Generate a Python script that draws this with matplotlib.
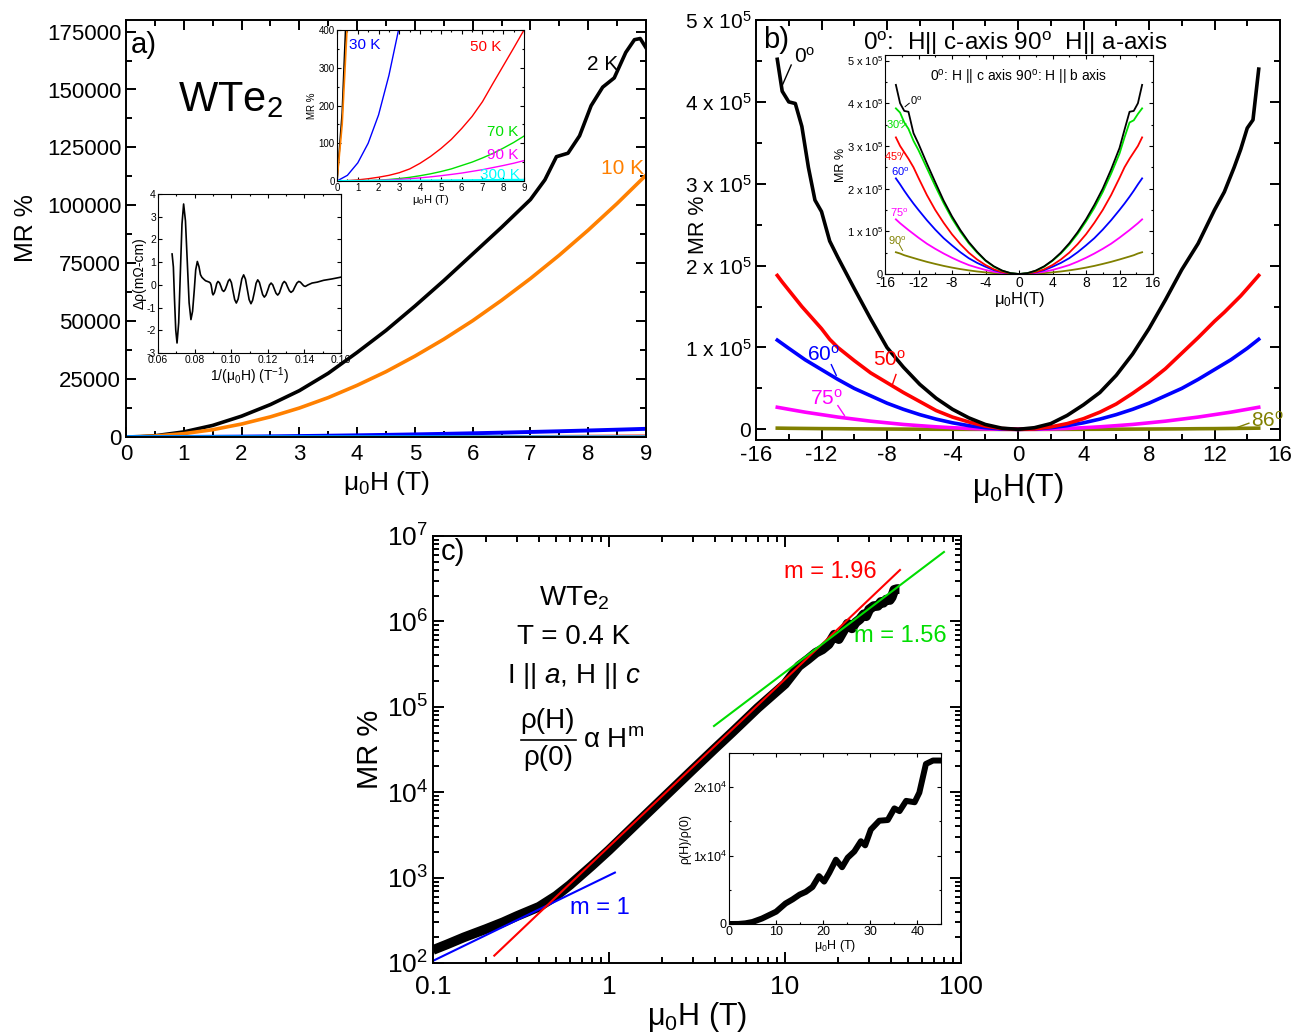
import math
import matplotlib
matplotlib.use('Agg')
import matplotlib.pyplot as plt
from matplotlib.ticker import MultipleLocator, FixedLocator, LogLocator, NullFormatter, FuncFormatter
from matplotlib.lines import Line2D

plt.rcParams['font.family'] = ['Liberation Sans', 'DejaVu Sans']
plt.rcParams['mathtext.fontset'] = 'custom'
plt.rcParams['mathtext.rm'] = 'Liberation Sans'
plt.rcParams['mathtext.it'] = 'Liberation Sans:italic'
plt.rcParams['mathtext.bf'] = 'Liberation Sans:bold'
plt.rcParams['axes.unicode_minus'] = False

# ---------------- Panel a data ----------------
H2K = [0, 0.25, 0.5, 1, 1.5, 2, 2.5, 3, 3.5, 4, 4.5, 5, 5.5, 6, 6.5, 7, 7.25, 7.45, 7.65, 7.85,
       8.05, 8.25, 8.45, 8.65, 8.8, 8.9, 9.0]
MR2K = [0, 180, 520, 2200, 5000, 9000, 14000, 20000, 27500, 36500, 46000, 56500, 67500, 79000,
        90500, 102500, 111000, 121000, 122500, 130000, 143000, 151000, 155000, 166000, 171500,
        172000, 168000]
H10K = [0, 0.25, 0.5, 1, 1.5, 2, 2.5, 3, 3.5, 4, 4.5, 5, 5.5, 6, 6.5, 7, 7.5, 8, 8.5, 9]
MR10K = [0, 150, 420, 1450, 3150, 5600, 8700, 12500, 17000, 22300, 28200, 34900, 42200, 50200,
         59000, 68400, 78500, 89300, 100800, 113000]
Hhi = [0, 0.5, 1, 1.5, 2, 2.5, 3, 3.5, 4, 4.5, 5, 5.5, 6, 6.5, 7, 7.5, 8, 8.5, 9]
MR30K = [0, 15, 48, 100, 175, 280, 410, 560, 730, 920, 1130, 1360, 1610, 1880, 2170, 2480, 2810,
         3160, 3530]
MR50K = [0, 1, 3, 6, 10, 15, 22, 32, 47, 65, 86, 110, 139, 171, 210, 258, 305, 352, 400]
MR70K = [0, 0.1, 0.4, 1, 2.2, 4, 6.5, 9.7, 14, 19, 25, 32, 41, 50, 61, 73, 87, 102, 119]
MR90K = [0, 0.07, 0.35, 0.9, 1.7, 2.8, 4.3, 6.1, 8.3, 11, 14, 17.4, 21, 25.5, 30, 35.5, 41, 47, 54]
MR300K = [0, 0, 0.1, 0.2, 0.3, 0.5, 0.6, 0.8, 1.0, 1.2, 1.4, 1.6, 1.8, 2.0, 2.2, 2.4, 2.6, 2.8, 3.0]

inv_H = [0.0677, 0.0684, 0.0690, 0.0697, 0.0704, 0.0713, 0.0722, 0.0731, 0.0740, 0.0750, 0.0760,
         0.0770, 0.0780, 0.0789, 0.0798, 0.0806, 0.0815, 0.0824, 0.0832, 0.0840, 0.0850, 0.0860,
         0.0870, 0.0880, 0.0886, 0.0890, 0.0894, 0.0897, 0.0901, 0.0908, 0.0915, 0.0921, 0.0928,
         0.0936, 0.0944, 0.0951, 0.0959, 0.0967, 0.0976, 0.0984, 0.0992, 0.1001, 0.1010, 0.1019,
         0.1028, 0.1038, 0.1048, 0.1058, 0.1068, 0.1078, 0.1088, 0.1098, 0.1108, 0.1117, 0.1127,
         0.1136, 0.1145, 0.1154, 0.1163, 0.1172, 0.1181, 0.1190, 0.1200, 0.1209, 0.1218, 0.1227,
         0.1236, 0.1245, 0.1254, 0.1263, 0.1272, 0.1281, 0.1290, 0.1299, 0.1308, 0.1318, 0.1327,
         0.1338, 0.1348, 0.1359, 0.1369, 0.1378, 0.1387, 0.1396, 0.1405, 0.1420, 0.1442, 0.1470,
         0.1505, 0.1550, 0.1600]
d_rho = [1.36, 0.79, -0.60, -1.99, -2.56, -1.67, 0.50, 2.67, 3.56, 2.82, 1.02, -0.79, -1.53, -1.16,
         -0.25, 0.66, 1.03, 0.80, 0.45, 0.33, 0.25, 0.18, 0.15, 0.12, 0.08, 0.00, -0.18, -0.36,
         -0.44, -0.35, -0.15, 0.06, 0.15, 0.09, -0.07, -0.23, -0.29, -0.21, -0.02, 0.17, 0.25, 0.10,
         -0.28, -0.65, -0.80, -0.62, -0.18, 0.26, 0.44, 0.25, -0.20, -0.65, -0.83, -0.68, -0.31,
         0.07, 0.22, 0.11, -0.16, -0.43, -0.54, -0.45, -0.23, -0.01, 0.08, 0.00, -0.19, -0.37,
         -0.45, -0.36, -0.15, 0.06, 0.15, 0.08, -0.09, -0.26, -0.33, -0.26, -0.09, 0.08, 0.15,
         0.12, 0.04, -0.04, -0.07, 0.00, 0.08, 0.12, 0.20, 0.26, 0.34]

# ---------------- Panel b data (MR in units of 1e5 %) ----------------
Hb = [-14.7, -14.4, -14.0, -13.6, -13.2, -12.8, -12.4, -12.0, -11.5, -11, -10, -9, -8, -7, -6, -5,
      -4, -3, -2, -1, 0, 1, 2, 3, 4, 5, 6, 7, 8, 9, 10, 11, 12, 12.6, 13.2, 13.6, 14.0, 14.35, 14.7]
MRb_0 = [4.52, 4.13, 4.00, 3.98, 3.70, 3.20, 2.80, 2.66, 2.30, 2.10, 1.72, 1.35, 1.00, 0.76, 0.55,
         0.38, 0.245, 0.14, 0.06, 0.015, 0, 0.02, 0.07, 0.17, 0.30, 0.45, 0.66, 0.92, 1.23, 1.58,
         1.95, 2.27, 2.68, 2.90, 3.20, 3.42, 3.68, 3.78, 4.40]
MRb_50 = [1.88, 1.80, 1.70, 1.60, 1.50, 1.41, 1.32, 1.23, 1.10, 1.00, 0.84, 0.69, 0.57, 0.45, 0.34,
          0.23, 0.15, 0.09, 0.04, 0.01, 0, 0.005, 0.03, 0.07, 0.13, 0.21, 0.31, 0.44, 0.58, 0.74,
          0.93, 1.12, 1.32, 1.43, 1.55, 1.63, 1.72, 1.80, 1.88]
Hb2 = [-14.7, -14, -13, -12, -11, -10, -9, -8, -7, -6, -5, -4, -3, -2, -1, 0, 1, 2, 3, 4, 5, 6, 7,
       8, 9, 10, 11, 12, 13, 14, 14.7]
MRb_60 = [1.09, 0.99, 0.85, 0.73, 0.61, 0.50, 0.41, 0.32, 0.245, 0.18, 0.125, 0.08, 0.045, 0.02,
          0.005, 0, 0.005, 0.02, 0.045, 0.08, 0.125, 0.18, 0.245, 0.32, 0.41, 0.50, 0.61, 0.73,
          0.85, 0.99, 1.10]
MRb_75 = [0.27, 0.245, 0.21, 0.18, 0.15, 0.125, 0.10, 0.08, 0.06, 0.045, 0.031, 0.02, 0.011, 0.005,
          0.001, 0, 0.001, 0.005, 0.011, 0.02, 0.031, 0.045, 0.06, 0.08, 0.10, 0.125, 0.15, 0.18,
          0.21, 0.245, 0.27]
MRb_86 = [0.015, 0.013, 0.011, 0.009, 0.008, 0.006, 0.005, 0.004, 0.003, 0.002, 0.0015, 0.001,
          0.0005, 0.0002, 0, 0, 0, 0.0002, 0.0005, 0.001, 0.0015, 0.002, 0.003, 0.004, 0.005,
          0.006, 0.008, 0.009, 0.011, 0.013, 0.015]

Hbi = [-14.7, -14.2, -13.7, -13.2, -12.6, -12, -11, -10, -9, -8, -7, -6, -5, -4, -3, -2, -1, 0,
       1, 2, 3, 4, 5, 6, 7, 8, 9, 10, 11, 12, 12.6, 13.2, 13.7, 14.2, 14.7]
MRi_0 = [4.43, 4.0, 3.82, 3.80, 3.30, 3.05, 2.59, 2.15, 1.72, 1.35, 1.03, 0.75, 0.52, 0.32, 0.18,
         0.08, 0.02, 0, 0.02, 0.08, 0.18, 0.32, 0.5, 0.72, 0.98, 1.28, 1.62, 2.0, 2.45, 2.95, 3.38,
         3.80, 3.82, 4.0, 4.43]
MRi_30 = [3.88, 3.78, 3.55, 3.40, 3.12, 2.90, 2.48, 2.06, 1.66, 1.30, 0.99, 0.72, 0.50, 0.31, 0.17,
          0.075, 0.02, 0, 0.02, 0.075, 0.17, 0.31, 0.48, 0.69, 0.94, 1.23, 1.55, 1.92, 2.35, 2.82,
          3.20, 3.55, 3.60, 3.75, 3.88]
MRi_45 = [3.20, 3.00, 2.85, 2.70, 2.50, 2.25, 1.85, 1.50, 1.20, 0.93, 0.70, 0.50, 0.34, 0.21, 0.11,
          0.045, 0.01, 0, 0.01, 0.045, 0.11, 0.21, 0.34, 0.50, 0.70, 0.93, 1.20, 1.50, 1.85, 2.25,
          2.50, 2.70, 2.85, 3.00, 3.20]
MRi_60 = [2.24, 2.10, 1.95, 1.81, 1.65, 1.50, 1.26, 1.04, 0.84, 0.67, 0.51, 0.37, 0.26, 0.17, 0.09,
          0.04, 0.01, 0, 0.01, 0.04, 0.09, 0.17, 0.26, 0.37, 0.51, 0.67, 0.84, 1.04, 1.26, 1.50,
          1.65, 1.81, 1.95, 2.10, 2.24]
MRi_75 = [1.28, 1.19, 1.11, 1.03, 0.94, 0.85, 0.71, 0.59, 0.48, 0.38, 0.29, 0.21, 0.15, 0.095,
          0.053, 0.024, 0.006, 0, 0.006, 0.024, 0.053, 0.095, 0.15, 0.21, 0.29, 0.38, 0.48, 0.59,
          0.71, 0.85, 0.94, 1.03, 1.11, 1.19, 1.28]
MRi_90 = [0.51, 0.48, 0.44, 0.41, 0.375, 0.34, 0.285, 0.236, 0.19, 0.15, 0.115, 0.085, 0.059, 0.038,
          0.021, 0.009, 0.002, 0, 0.002, 0.009, 0.021, 0.038, 0.059, 0.085, 0.115, 0.15, 0.19,
          0.236, 0.285, 0.34, 0.375, 0.41, 0.44, 0.48, 0.51]

# ---------------- Panel c data ----------------
Hc = [0.1, 0.12, 0.15, 0.2, 0.25, 0.3, 0.4, 0.5, 0.6, 0.8, 1, 1.5, 2, 3, 4, 5, 7, 10, 12, 13.5, 15,
      16.3, 17.7, 19.1, 20.2, 21.3, 22.7, 24, 25.2, 26.6, 28, 28.9, 30.1, 31.9, 33.7, 35.1, 36.2,
      37.6, 39.4, 40.4, 41.8, 43.3, 44.7]
MRc = [142, 165, 200, 250, 300, 355, 455, 610, 820, 1380, 2100, 4700, 8300, 18500, 32500, 50000,
       97000, 185000, 300000, 360000, 430000, 470000, 540000, 700000, 620000, 750000, 940000,
       830000, 970000, 1060000, 1210000, 1150000, 1380000, 1510000, 1520000, 1690000, 1650000,
       1800000, 1780000, 1920000, 2340000, 2390000, 2390000]
fitH_m1 = [0.1, 1.08]
fitMR_m1 = [106, 1145]
fitH_m196 = [0.223, 45]
fitMR_m196 = [122, 4.0e6]
fitH_m156 = [3.95, 80]
fitMR_m156 = [5.96e4, 6.5e6]

Hci = [0, 2, 3.5, 5, 7, 10, 12, 13.5, 15, 16.3, 17.7, 19.1, 20.2, 21.3, 22.7, 24, 25.2, 26.6, 28,
       28.9, 30.1, 31.9, 33.7, 35.1, 36.2, 37.6, 39.4, 40.4, 41.8, 43.3, 44.7]
Rci = [0, 10, 100, 300, 800, 1800, 3000, 3600, 4300, 4700, 5400, 7000, 6200, 7500, 9400, 8300, 9700,
       10600, 12100, 11500, 13800, 15100, 15200, 16900, 16500, 18000, 17800, 19200, 23400, 23900,
       23900]

W, Hh = 1306, 1036


def rect(x0, y0, x1, y1):
    return [x0 / W, 1 - y1 / Hh, (x1 - x0) / W, (y1 - y0) / Hh]


def P(x, y):
    return x / W, 1 - y / Hh


def style(ax, fs, maj=7, mino=4, w=1.4):
    ax.tick_params(which='both', direction='in', top=True, right=True, labelsize=fs, width=w)
    ax.tick_params(which='major', length=maj)
    ax.tick_params(which='minor', length=mino)
    for s in ax.spines.values():
        s.set_linewidth(w)


DEG = r'$^{\mathrm{o}}$'

fig = plt.figure(figsize=(13.06, 10.36), dpi=100)

# ================= Panel a =================
axA = fig.add_axes(rect(126, 20, 646, 437))
axA.plot(H2K, MR2K, color='black', lw=2.6)
axA.plot(H10K, MR10K, color='#FF8000', lw=2.6)
axA.plot(Hhi, MR50K, color='red', lw=2.2)
axA.plot(Hhi, MR70K, color='#00E000', lw=2.2)
axA.plot(Hhi, MR90K, color='magenta', lw=2.2)
axA.plot(Hhi, MR30K, color='blue', lw=2.8)
axA.plot(Hhi, MR300K, color='cyan', lw=2.2)
axA.set_xlim(0, 9)
axA.set_ylim(0, 180000)
axA.xaxis.set_major_locator(MultipleLocator(1))
axA.xaxis.set_minor_locator(MultipleLocator(0.5))
axA.yaxis.set_major_locator(FixedLocator(list(range(0, 175001, 25000))))
axA.yaxis.set_minor_locator(MultipleLocator(12500))
axA.yaxis.set_major_formatter(FuncFormatter(lambda v, p: f"{int(v)}"))
style(axA, 16)
axA.tick_params(axis='x', pad=5)
axA.set_xlabel('μ$_0$H (T)', fontsize=19, labelpad=3)
axA.set_ylabel('MR %', fontsize=18, labelpad=6)
fig.text(*P(131, 45), 'a)', fontsize=21, va='center', ha='left')
fig.text(*P(178, 100), r'WTe$_2$', fontsize=30, va='center', ha='left')
fig.text(*P(587, 65), '2 K', fontsize=15, va='center', ha='left')
fig.text(*P(601, 168), '10 K', fontsize=15, va='center', ha='left', color='#FF8000')

# inset top
axAi = fig.add_axes(rect(337, 30, 524, 181))
axAi.plot(H2K, MR2K, color='black', lw=1.2)
axAi.plot(H10K, MR10K, color='#FF8000', lw=1.2)
axAi.plot(Hhi, MR30K, color='blue', lw=1.0)
axAi.plot(Hhi, MR50K, color='red', lw=1.0)
axAi.plot(Hhi, MR70K, color='#00E000', lw=1.0)
axAi.plot(Hhi, MR90K, color='magenta', lw=1.0)
axAi.plot(Hhi, MR300K, color='cyan', lw=1.6)
axAi.set_xlim(0, 9)
axAi.set_ylim(0, 400)
axAi.xaxis.set_major_locator(MultipleLocator(1))
axAi.xaxis.set_minor_locator(MultipleLocator(0.5))
axAi.yaxis.set_major_locator(MultipleLocator(100))
axAi.yaxis.set_minor_locator(MultipleLocator(50))
style(axAi, 7, maj=3, mino=1.5, w=0.8)
axAi.tick_params(axis='both', pad=1.5)
axAi.set_xlabel('μ$_0$H (T)', fontsize=8, labelpad=0)
axAi.set_ylabel('MR %', fontsize=7, labelpad=1)
axAi.text(0.6, 360, '30 K', color='blue', fontsize=11, va='center')
axAi.text(6.4, 355, '50 K', color='red', fontsize=11, va='center')
axAi.text(7.2, 130, '70 K', color='#00E000', fontsize=11, va='center')
axAi.text(7.2, 68, '90 K', color='magenta', fontsize=11, va='center')
axAi.text(6.9, 16, '300 K', color='cyan', fontsize=11, va='center')

# inset left (oscillations)
axAo = fig.add_axes(rect(158, 194, 341, 353))
axAo.plot(inv_H, d_rho, color='black', lw=1.2)
axAo.set_xlim(0.06, 0.16)
axAo.set_ylim(-3, 4)
axAo.xaxis.set_major_locator(MultipleLocator(0.02))
axAo.xaxis.set_minor_locator(MultipleLocator(0.01))
axAo.yaxis.set_major_locator(MultipleLocator(1))
axAo.xaxis.set_major_formatter(FuncFormatter(lambda v, p: f"{v:.2f}"))
style(axAo, 7.5, maj=3, mino=1.5, w=0.8)
axAo.tick_params(axis='both', pad=1.5)
axAo.set_xlabel('1/(μ$_0$H) (T$^{-1}$)', fontsize=10, labelpad=0)
axAo.set_ylabel('Δρ(mΩ-cm)', fontsize=10, labelpad=0)

# ================= Panel b =================
axB = fig.add_axes(rect(756, 20, 1280, 440))
axB.plot(Hb2, [v * 1e5 for v in MRb_86], color='#808000', lw=2.6)
axB.plot(Hb2, [v * 1e5 for v in MRb_75], color='magenta', lw=2.6)
axB.plot(Hb2, [v * 1e5 for v in MRb_60], color='blue', lw=2.6)
axB.plot(Hb, [v * 1e5 for v in MRb_50], color='red', lw=2.6)
axB.plot(Hb, [v * 1e5 for v in MRb_0], color='black', lw=2.6)
axB.set_xlim(-16, 16)
axB.set_ylim(-13000, 500000)
axB.xaxis.set_major_locator(MultipleLocator(4))
axB.xaxis.set_minor_locator(MultipleLocator(2))
axB.yaxis.set_major_locator(FixedLocator([0, 1e5, 2e5, 3e5, 4e5, 5e5]))
axB.yaxis.set_minor_locator(MultipleLocator(0.5e5))
axB.yaxis.set_major_formatter(FuncFormatter(
    lambda v, p: '0' if abs(v) < 1 else r'%d x 10$^5$' % round(v / 1e5)))
style(axB, 16)
axB.tick_params(axis='y', labelsize=15)
axB.set_xlabel('μ$_0$H(T)', fontsize=22, labelpad=4)
axB.set_ylabel('MR %', fontsize=15.5)
axB.yaxis.set_label_coords(-0.09, 0.512)
fig.text(*P(763, 40), 'b)', fontsize=21, va='center', ha='left')
fig.text(*P(1015, 43), '0' + DEG + ':  H|| c-axis 90' + DEG + '  H|| a-axis',
         fontsize=17.5, va='center', ha='center')
# curve labels
axB.text(-13.7, 4.55e5, '0' + DEG, fontsize=15, va='center', ha='left')
axB.plot([-14.4, -13.85], [4.2e5, 4.45e5], color='black', lw=1)
axB.text(-11.9, 0.91e5, '60' + DEG, fontsize=15, va='center', ha='center', color='blue')
axB.plot([-11.4, -11.1], [0.79e5, 0.66e5], color='blue', lw=1)
axB.text(-7.85, 0.85e5, '50' + DEG, fontsize=15, va='center', ha='center', color='red')
axB.plot([-7.45, -7.7], [0.67e5, 0.53e5], color='red', lw=1)
axB.text(-11.7, 0.38e5, '75' + DEG, fontsize=15, va='center', ha='center', color='magenta')
axB.plot([-11.0, -10.6], [0.29e5, 0.17e5], color='magenta', lw=1)
axB.text(14.2, 0.11e5, '86' + DEG, fontsize=15, va='center', ha='left', color='#808000')
axB.plot([13.2, 14.1], [0.01e5, 0.075e5], color='#808000', lw=1)

# inset b
axBi = fig.add_axes(rect(885, 55, 1153, 274))
axBi.plot(Hbi, [v * 1e5 for v in MRi_90], color='#808000', lw=1.3)
axBi.plot(Hbi, [v * 1e5 for v in MRi_75], color='magenta', lw=1.3)
axBi.plot(Hbi, [v * 1e5 for v in MRi_60], color='blue', lw=1.3)
axBi.plot(Hbi, [v * 1e5 for v in MRi_45], color='red', lw=1.3)
axBi.plot(Hbi, [v * 1e5 for v in MRi_30], color='#00E000', lw=1.3)
axBi.plot(Hbi, [v * 1e5 for v in MRi_0], color='black', lw=1.3)
axBi.set_xlim(-16, 16)
axBi.set_ylim(0, 5.13e5)
axBi.xaxis.set_major_locator(MultipleLocator(4))
axBi.xaxis.set_minor_locator(MultipleLocator(2))
axBi.yaxis.set_major_locator(FixedLocator([0, 1e5, 2e5, 3e5, 4e5, 5e5]))
axBi.yaxis.set_minor_locator(MultipleLocator(0.5e5))
axBi.yaxis.set_major_formatter(FuncFormatter(
    lambda v, p: '0' if abs(v) < 1 else r'%d x 10$^5$' % round(v / 1e5)))
style(axBi, 10, maj=3, mino=1.5, w=0.8)
axBi.tick_params(axis='y', labelsize=8, pad=1.5)
axBi.tick_params(axis='x', pad=1.5)
axBi.set_xlabel('μ$_0$H(T)', fontsize=12, labelpad=0)
axBi.set_ylabel('MR %', fontsize=9, labelpad=0)
axBi.text(0, 4.6e5, '0' + DEG + ': H || c axis 90' + DEG + ': H || b axis', fontsize=10,
          ha='center', va='center')
axBi.text(-13.0, 4.05e5, '0' + DEG, fontsize=8, va='center', ha='left')
axBi.plot([-13.6, -13.1], [3.92e5, 4.0e5], color='black', lw=0.7)
axBi.text(-14.8, 3.5e5, '30' + DEG, fontsize=8, va='center', ha='center', color='#00E000')
axBi.plot([-14.0, -13.5], [3.43e5, 3.52e5], color='#00E000', lw=0.7)
axBi.text(-15.0, 2.75e5, '45' + DEG, fontsize=8, va='center', ha='center', color='red')
axBi.plot([-14.2, -13.8], [2.68e5, 2.85e5], color='red', lw=0.7)
axBi.text(-14.2, 2.4e5, '60' + DEG, fontsize=8, va='center', ha='center', color='blue')
axBi.text(-14.3, 1.43e5, '75' + DEG, fontsize=8, va='center', ha='center', color='magenta')
axBi.text(-14.5, 0.77e5, '90' + DEG, fontsize=8, va='center', ha='center', color='#808000')
axBi.plot([-14.3, -13.9], [0.69e5, 0.55e5], color='#808000', lw=0.7)

# ================= Panel c =================
axC = fig.add_axes(rect(433, 536, 961, 963))
axC.plot(Hc, MRc, color='black', lw=7, solid_capstyle='butt')
axC.plot(fitH_m1, fitMR_m1, color='blue', lw=1.5)
axC.plot(fitH_m196, fitMR_m196, color='red', lw=1.5)
axC.plot(fitH_m156, fitMR_m156, color='#00DD00', lw=1.5, clip_on=False)
axC.set_xscale('log')
axC.set_yscale('log')
axC.set_xlim(0.1, 100)
axC.set_ylim(1e2, 1e7)
axC.xaxis.set_major_locator(LogLocator(base=10, numticks=10))
axC.xaxis.set_minor_locator(LogLocator(base=10, subs=range(2, 10), numticks=10))
axC.xaxis.set_minor_formatter(NullFormatter())
axC.xaxis.set_major_formatter(FuncFormatter(
    lambda v, p: {0.1: '0.1', 1: '1', 10: '10', 100: '100'}.get(round(v, 3), '')))
axC.yaxis.set_major_locator(LogLocator(base=10, numticks=10))
axC.yaxis.set_minor_locator(LogLocator(base=10, subs=range(2, 10), numticks=10))
axC.yaxis.set_minor_formatter(NullFormatter())
axC.yaxis.set_major_formatter(FuncFormatter(lambda v, p: r'10$^{%d}$' % round(math.log10(v))))
style(axC, 19, maj=8, mino=4)
axC.tick_params(axis='x', pad=9)
axC.set_xlabel('μ$_0$H (T)', fontsize=22, labelpad=0)
axC.set_ylabel('MR %', fontsize=21)
axC.yaxis.set_label_coords(-0.092, 0.5)
fig.text(*P(441, 552), 'c)', fontsize=21, va='center', ha='left')
fig.text(*P(574, 598), r'WTe$_2$', fontsize=20, va='center', ha='center')
fig.text(*P(574, 637), 'T = 0.4 K', fontsize=20, va='center', ha='center')
fig.text(*P(574, 676), r'I || $a$, H || $c$', fontsize=20, va='center', ha='center')
fig.text(*P(548, 721), 'ρ(H)', fontsize=20, va='center', ha='center')
fig.add_artist(Line2D([521 / W, 576 / W], [1 - 740 / Hh, 1 - 740 / Hh], color='black', lw=1.2))
fig.text(*P(548, 758), 'ρ(0)', fontsize=20, va='center', ha='center')
fig.text(*P(583, 740), 'α H$^{\\mathrm{m}}$', fontsize=20, va='center', ha='left')
fig.text(*P(830, 572), 'm = 1.96', fontsize=17, va='center', ha='center', color='red')
fig.text(*P(900, 636), 'm = 1.56', fontsize=17, va='center', ha='center', color='#00DD00')
fig.text(*P(600, 908), 'm = 1', fontsize=17, va='center', ha='center', color='blue')

# inset c
axCi = fig.add_axes(rect(729, 753, 941, 924))
axCi.plot(Hci, Rci, color='black', lw=4.3)
axCi.set_xlim(0, 45)
axCi.set_ylim(0, 25000)
axCi.xaxis.set_major_locator(MultipleLocator(10))
axCi.xaxis.set_minor_locator(MultipleLocator(5))
axCi.yaxis.set_major_locator(FixedLocator([0, 10000, 20000]))
axCi.yaxis.set_minor_locator(MultipleLocator(5000))
axCi.yaxis.set_major_formatter(FuncFormatter(
    lambda v, p: '0' if abs(v) < 1 else r'%dx10$^4$' % round(v / 1e4)))
style(axCi, 9, maj=3, mino=1.5, w=0.8)
axCi.tick_params(axis='both', pad=1.5)
axCi.set_xlabel('μ$_0$H (T)', fontsize=9, labelpad=0)
axCi.set_ylabel('ρ(H)/ρ(0)', fontsize=9, labelpad=1)

fig.savefig('out.png', dpi=100)
